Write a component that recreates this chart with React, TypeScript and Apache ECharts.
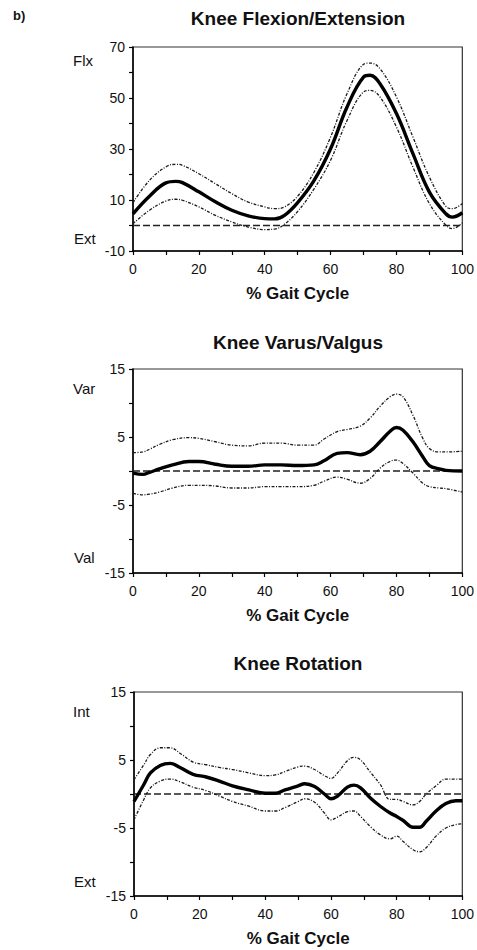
import React, { useEffect, useRef } from "react";
import * as echarts from "echarts";

// ---------- Data ----------
const flexX = [0, 5, 10, 13, 15, 20, 25, 30, 35, 40, 43, 46, 50, 55, 60, 65, 70, 72, 75, 80, 85, 90, 95, 97, 100];
const flexMean = [4.6, 11.5, 16.7, 17.3, 16.8, 13.2, 9.3, 6.0, 3.8, 2.7, 2.6, 4.0, 9.0, 17.7, 30.1, 46.5, 58.2, 58.9, 55.6, 43.9, 28.2, 13.1, 4.6, 3.3, 5.0];
const flexUpper = [9.0, 17.7, 23.0, 24.0, 23.6, 20.3, 16.4, 12.5, 9.2, 7.3, 6.6, 7.3, 11.5, 21.0, 34.7, 51.7, 63.2, 63.7, 61.5, 50.4, 34.7, 19.0, 7.5, 6.6, 8.6];
const flexLower = [0.7, 6.0, 9.6, 10.3, 9.9, 7.3, 4.0, 1.4, -0.6, -1.6, -1.4, 0.5, 5.5, 14.4, 25.6, 41.2, 52.4, 53.0, 50.4, 38.6, 22.9, 8.6, 0.1, -1.2, 1.0];

const varX = [0, 3, 5, 8, 12, 17, 20, 25, 30, 35, 40, 45, 50, 55, 58, 62, 65, 69, 72, 75, 78, 80, 82, 85, 88, 90, 93, 95, 100];
const varMean = [-0.3, -0.5, -0.2, 0.3, 0.9, 1.4, 1.4, 1.0, 0.7, 0.7, 0.9, 0.9, 0.8, 0.9, 1.5, 2.6, 2.7, 2.4, 2.9, 4.3, 5.8, 6.4, 6.0, 4.3, 2.1, 0.8, 0.3, 0.1, 0.0];
const varUpper = [2.7, 2.8, 3.2, 3.9, 4.6, 4.9, 4.8, 4.3, 3.8, 3.7, 4.1, 4.1, 3.8, 3.8, 4.7, 5.8, 6.1, 6.6, 7.8, 9.5, 10.9, 11.3, 10.9, 8.2, 4.8, 3.3, 2.8, 2.8, 2.9];
const varLower = [-3.3, -3.5, -3.4, -3.1, -2.5, -2.1, -2.1, -2.2, -2.5, -2.5, -2.3, -2.3, -2.3, -2.1, -1.5, -0.9, -1.2, -1.8, -1.1, 0.4, 1.4, 1.6, 1.1, -0.3, -1.8, -2.3, -2.5, -2.6, -3.1];

const rotX = [0, 3, 5, 8, 11, 14, 18, 22, 26, 30, 35, 40, 43, 46, 50, 52, 55, 58, 60, 62, 65, 67, 69, 72, 75, 78, 80, 82, 85, 87, 89, 92, 95, 98, 100];
const rotMean = [-1.1, 1.4, 3.1, 4.2, 4.5, 3.9, 2.9, 2.5, 1.9, 1.2, 0.6, 0.1, 0.1, 0.6, 1.2, 1.5, 1.1, 0.0, -0.7, -0.3, 1.0, 1.3, 0.9, -0.6, -1.8, -2.8, -3.3, -3.9, -4.9, -4.9, -4.0, -2.5, -1.4, -1.0, -1.0];
const rotUpper = [2.1, 4.3, 5.8, 6.8, 6.8, 6.0, 4.7, 4.3, 3.9, 3.6, 3.1, 2.7, 2.8, 3.3, 4.0, 4.1, 3.6, 2.7, 2.3, 3.1, 4.9, 5.4, 5.0, 3.2, 1.4, -0.8, -0.8, -1.1, -1.6, -1.1, 0.0, 1.2, 2.2, 2.2, 2.2];
const rotLower = [-3.8, -0.8, 0.9, 1.9, 2.2, 1.8, 1.0, 0.5, -0.3, -1.1, -1.8, -2.5, -2.5, -2.0, -1.1, -0.7, -1.2, -2.8, -3.8, -3.4, -2.6, -2.5, -3.3, -4.8, -6.0, -6.6, -6.2, -7.0, -8.2, -8.5, -7.9, -6.2, -5.0, -4.5, -4.4];

const zeroX = [0, 100];
const zeroY = [0, 0];

const titles = ["Knee Flexion/Extension", "Knee Varus/Valgus", "Knee Rotation"];
const topLabels = ["Flx", "Var", "Int"];
const bottomLabels = ["Ext", "Val", "Ext"];
const xAxisName = "% Gait Cycle";
const panelLabel = "b)";
const yMins = [-10, -15, -15];
const yMaxs = [70, 15, 15];
const yIntervals = [10, 5, 5];
const yLabelSteps = [20, 10, 10];

// ---------- Layout ----------
const grids = [
  { left: 133, top: 47, width: 331, height: 204 },
  { left: 133, top: 369, width: 332, height: 204 },
  { left: 134, top: 692, width: 329, height: 204 },
];
const FONT = "Liberation Sans, Arial, Helvetica, sans-serif";

const pair = (xs: number[], ys: number[]) => xs.map((x, i) => [x, ys[i]]);

export default function App() {
  const ref = useRef<HTMLDivElement>(null);

  useEffect(() => {
    if (!ref.current) return;
    const chart = echarts.init(ref.current, null, { renderer: "svg" });

    const sets = [
      { x: flexX, mean: flexMean, up: flexUpper, lo: flexLower },
      { x: varX, mean: varMean, up: varUpper, lo: varLower },
      { x: rotX, mean: rotMean, up: rotUpper, lo: rotLower },
    ];

    const series: any[] = [];
    sets.forEach((s, i) => {
      series.push({
        type: "line",
        xAxisIndex: i,
        yAxisIndex: i,
        data: pair(zeroX, zeroY),
        symbol: "none",
        lineStyle: { color: "#222", width: 1.3, type: [7, 3] },
      });
      [s.up, s.lo].forEach((b) =>
        series.push({
          type: "line",
          xAxisIndex: i,
          yAxisIndex: i,
          data: pair(s.x, b),
          symbol: "none",
          smooth: 0.4,
          lineStyle: { color: "#1a1a1a", width: 1.3, type: [3, 1.5, 1, 1.5] },
        })
      );
      series.push({
        type: "line",
        xAxisIndex: i,
        yAxisIndex: i,
        data: pair(s.x, s.mean),
        symbol: "none",
        smooth: 0.4,
        lineStyle: { color: "#000", width: 3.4 },
      });
    });

    const xAxes = grids.map((_, i) => ({
      type: "value",
      gridIndex: i,
      min: 0,
      max: 100,
      interval: 10,
      name: xAxisName,
      nameLocation: "middle",
      nameGap: 34,
      nameTextStyle: { fontFamily: FONT, fontSize: 17, fontWeight: "bold", color: "#111" },
      axisLine: { show: true, onZero: false, lineStyle: { color: "#000", width: 1.5 } },
      axisTick: { show: true, inside: false, length: 4, lineStyle: { color: "#000", width: 1.2 } },
      axisLabel: {
        margin: 11,
        fontFamily: FONT,
        fontSize: 14,
        color: "#111",
        formatter: (v: number) => (v % 20 === 0 ? String(v) : ""),
      },
      splitLine: { show: false },
    }));

    const yAxes = grids.map((_, i) => ({
      type: "value",
      gridIndex: i,
      min: yMins[i],
      max: yMaxs[i],
      interval: yIntervals[i],
      axisLine: { show: true, onZero: false, lineStyle: { color: "#000", width: 1.5 } },
      axisTick: { show: true, inside: false, length: 4, lineStyle: { color: "#000", width: 1.2 } },
      axisLabel: {
        margin: 8,
        fontFamily: FONT,
        fontSize: 14,
        color: "#111",
        formatter: (v: number) => ((v - yMins[i]) % yLabelSteps[i] === 0 ? String(v) : ""),
      },
      splitLine: { show: false },
    }));

    const titleY = [18, 342, 663];
    const topY = [60, 388, 711];
    const botY = [238, 557, 881];
    const graphic: any[] = [
      {
        type: "text",
        x: 13,
        y: 15,
        style: { text: panelLabel, fontFamily: FONT, fontSize: 13, fontWeight: "bold", fill: "#111", textVerticalAlign: "middle" },
      },
    ];
    grids.forEach((g, i) => {
      graphic.push({
        type: "text",
        x: 298,
        y: titleY[i],
        style: {
          text: titles[i],
          fontFamily: FONT,
          fontSize: 19,
          fontWeight: "bold",
          fill: "#111",
          textAlign: "center",
          textVerticalAlign: "middle",
        },
      });
      graphic.push({
        type: "text",
        x: 73,
        y: topY[i],
        style: { text: topLabels[i], fontFamily: FONT, fontSize: 15, fill: "#111", textVerticalAlign: "middle" },
      });
      graphic.push({
        type: "text",
        x: 74,
        y: botY[i],
        style: { text: bottomLabels[i], fontFamily: FONT, fontSize: 15, fill: "#111", textVerticalAlign: "middle" },
      });
    });

    chart.setOption({
      animation: false,
      backgroundColor: "#fff",
      grid: grids.map((g) => ({ ...g, show: true, borderColor: "#333", borderWidth: 1.2, backgroundColor: "transparent" })),
      xAxis: xAxes,
      yAxis: yAxes,
      series,
      graphic,
    });

    return () => chart.dispose();
  }, []);

  return (
    <div
      ref={ref}
      style={{ position: "absolute", left: 0, top: 0, width: 477, height: 950 }}
    />
  );
}
